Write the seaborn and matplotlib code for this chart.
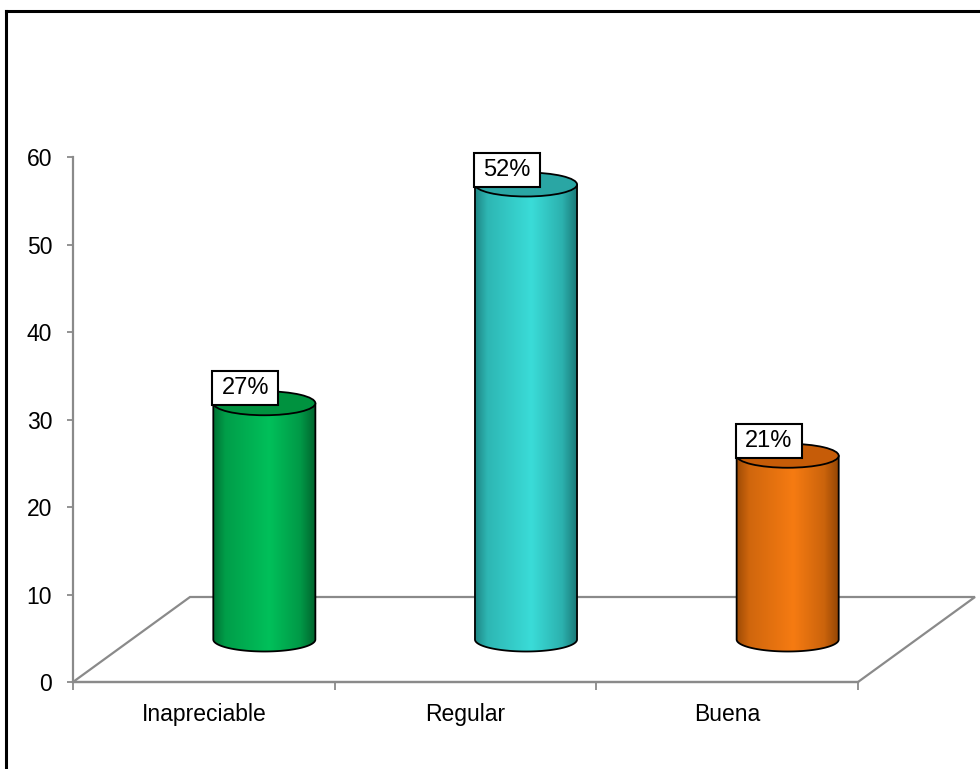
import numpy as np
import matplotlib
matplotlib.use("Agg")
import matplotlib.pyplot as plt
from matplotlib.patches import Polygon, Ellipse, Rectangle
from matplotlib.lines import Line2D
from matplotlib.colors import to_rgb
import seaborn as sns

# ---- data ----
categories = ["Inapreciable", "Regular", "Buena"]
values = [27, 52, 21]
labels = ["27%", "52%", "21%"]
y_ticks = [0, 10, 20, 30, 40, 50, 60]

# ---- styling ----
dark_cols = ["#005e2a", "#17706f", "#8a4003"]
bright_cols = ["#00c05a", "#3adcd8", "#f67b12"]
top_cols = ["#00923f", "#2aa6a4", "#c65c08"]
GRID_GREY = "#8a8a8a"

sns.set_style("white")
plt.rcParams["font.family"] = ["Liberation Sans", "DejaVu Sans"]

W, H = 980, 769
fig = plt.figure(figsize=(W / 100, H / 100), dpi=100)
ax = fig.add_axes([73 / W, (H - 682) / H, (858 - 73) / W, (682 - 157) / H])

# categorical scale from seaborn; bars replaced with cylinders below
sns.barplot(x=categories, y=values, color="white", width=0.39, ax=ax)
bars = list(ax.patches)
ax.set_xlim(-0.5, 2.5)
ax.set_ylim(0, 60)

px_x = 3.0 / (858 - 73)      # data units per pixel, x
px_y = 60.0 / (682 - 157)    # data units per pixel, y
depth_x = 121 * px_x
depth_y = 85 * px_y
floor_dx = 117 * px_x

# floor of the 3-D plot area
floor = [(-0.5, 0), (2.5, 0), (2.5 + floor_dx, depth_y), (-0.5 + floor_dx, depth_y)]
ax.add_patch(Polygon(floor, closed=True, facecolor="none", edgecolor=GRID_GREY,
                     lw=1.6, clip_on=False, zorder=1))


def shade(dark, bright, n=256):
    t = np.linspace(0, 1, n)
    f = np.interp(t, [0, 0.12, 0.55, 0.85, 1.0], [0.2, 0.65, 1.0, 0.6, 0.05])
    d, b = np.array(to_rgb(dark)), np.array(to_rgb(bright))
    row = d[None, :] + f[:, None] * (b - d)[None, :]
    return np.stack([row, row])


def cylinder(cx, a, ybot, ytop, b, dark, bright, topc):
    t = np.linspace(np.pi, 2 * np.pi, 80)
    arc = np.column_stack([cx + a * np.cos(t), ybot + b * np.sin(t)])
    verts = [(cx - a, ytop)] + arc.tolist() + [(cx + a, ytop)]
    body = Polygon(verts, closed=True, facecolor="none", edgecolor="none", zorder=3)
    ax.add_patch(body)
    im = ax.imshow(shade(dark, bright), extent=[cx - a, cx + a, ybot - b, ytop],
                   aspect="auto", origin="lower", interpolation="bilinear", zorder=3)
    im.set_clip_path(body)
    xs = [cx - a] + list(arc[:, 0]) + [cx + a]
    ys = [ytop] + list(arc[:, 1]) + [ytop]
    ax.plot(xs, ys, color="black", lw=1.3, zorder=4, solid_joinstyle="round")
    ax.add_patch(Ellipse((cx, ytop), 2 * a, 2 * b, facecolor=topc, edgecolor="black",
                         lw=1.3, zorder=5, clip_on=False))


for i, p in enumerate(bars):
    x0, w, v = p.get_x(), p.get_width(), p.get_height()
    p.set_visible(False)
    cx = x0 + w / 2 + depth_x / 2
    a = w / 2
    ybot = depth_y / 2
    ytop = ybot + v
    b = 12 * px_y
    cylinder(cx, a, ybot, ytop, b, dark_cols[i], bright_cols[i], top_cols[i])
    # value label box
    bx = cx - a - 1 * px_x
    bw = 66 * px_x
    bh = 34 * px_y
    by = ytop - 2 * px_y
    ax.add_patch(Rectangle((bx, by), bw, bh, facecolor="white", edgecolor="black",
                           lw=1.5, zorder=6, clip_on=False))
    ax.text(bx + bw / 2, by + bh / 2, labels[i], ha="center", va="center",
            fontsize=17, color="black", zorder=7, clip_on=False)

ax.set_xlim(-0.5, 2.5)
ax.set_ylim(0, 60)

# axes styling
for s in ("top", "right"):
    ax.spines[s].set_visible(False)
for s in ("left", "bottom"):
    ax.spines[s].set_color(GRID_GREY)
    ax.spines[s].set_linewidth(1.6)

ax.set_yticks(y_ticks)
ax.set_yticklabels([str(t) for t in y_ticks])
ax.tick_params(axis="y", direction="out", length=4, width=1.3, color=GRID_GREY,
               labelsize=16.5, pad=11, left=True, labelcolor="black")
ax.set_xticks(range(len(categories)))
ax.set_xticklabels(categories)
ax.set_xticks([-0.5, 0.5, 1.5, 2.5], minor=True)
ax.tick_params(axis="x", which="major", length=0, labelsize=16.5, pad=15, labelcolor="black")
ax.tick_params(axis="x", which="minor", direction="out", length=6, width=1.3,
               color=GRID_GREY, bottom=True)
ax.set_xlabel("")
ax.set_ylabel("")
ax.grid(False)

# outer chart frame
top_y = (H - 11) / H
left_x = 5.5 / W
fig.add_artist(Line2D([left_x, left_x], [-0.01, top_y], color="black", lw=2.2,
                      transform=fig.transFigure, solid_capstyle="projecting"))
fig.add_artist(Line2D([left_x, 1.01], [top_y, top_y], color="black", lw=2.2,
                      transform=fig.transFigure, solid_capstyle="projecting"))

fig.savefig("out.png", dpi=100, facecolor="white")
